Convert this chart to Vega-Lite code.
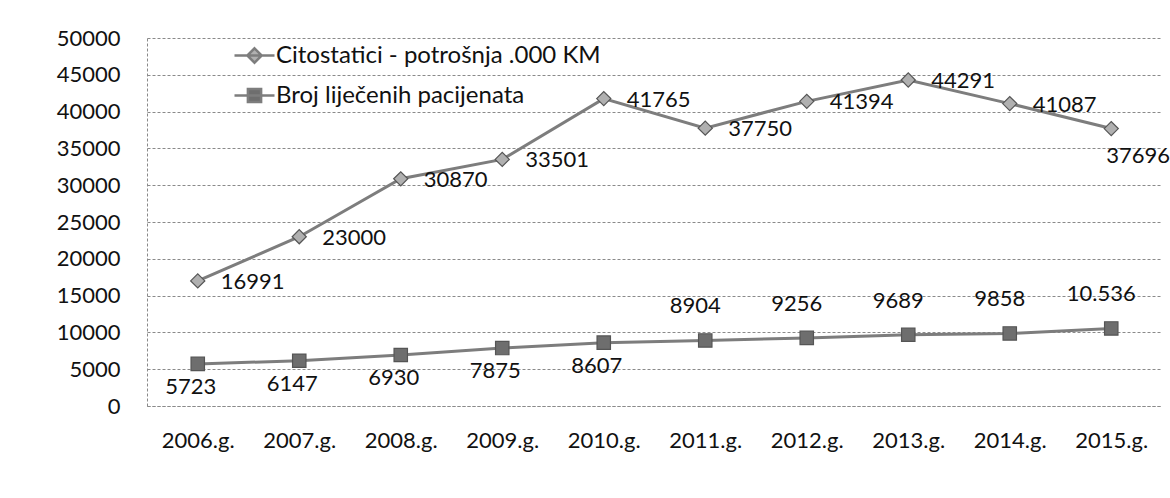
{
  "$schema": "https://vega.github.io/schema/vega-lite/v6.json",
  "autosize": {"type": "none"},
  "width": 1015,
  "height": 368,
  "padding": {"left": 147, "top": 38, "right": 8, "bottom": 92},
  "background": "white",
  "config": {
    "font": "Lato",
    "view": {"stroke": null},
    "axis": {"labelFont": "Lato", "labelFontSize": 22, "labelColor": "#111", "ticks": false, "title": null}
  },
  "data": {
    "values": [
      {"year": "2006.g.", "series": "Citostatici - potrošnja .000 KM", "value": 16991, "label": "16991"},
      {"year": "2007.g.", "series": "Citostatici - potrošnja .000 KM", "value": 23000, "label": "23000"},
      {"year": "2008.g.", "series": "Citostatici - potrošnja .000 KM", "value": 30870, "label": "30870"},
      {"year": "2009.g.", "series": "Citostatici - potrošnja .000 KM", "value": 33501, "label": "33501"},
      {"year": "2010.g.", "series": "Citostatici - potrošnja .000 KM", "value": 41765, "label": "41765"},
      {"year": "2011.g.", "series": "Citostatici - potrošnja .000 KM", "value": 37750, "label": "37750"},
      {"year": "2012.g.", "series": "Citostatici - potrošnja .000 KM", "value": 41394, "label": "41394"},
      {"year": "2013.g.", "series": "Citostatici - potrošnja .000 KM", "value": 44291, "label": "44291"},
      {"year": "2014.g.", "series": "Citostatici - potrošnja .000 KM", "value": 41087, "label": "41087"},
      {"year": "2015.g.", "series": "Citostatici - potrošnja .000 KM", "value": 37696, "label": "37696"},
      {"year": "2006.g.", "series": "Broj liječenih pacijenata", "value": 5723, "label": "5723"},
      {"year": "2007.g.", "series": "Broj liječenih pacijenata", "value": 6147, "label": "6147"},
      {"year": "2008.g.", "series": "Broj liječenih pacijenata", "value": 6930, "label": "6930"},
      {"year": "2009.g.", "series": "Broj liječenih pacijenata", "value": 7875, "label": "7875"},
      {"year": "2010.g.", "series": "Broj liječenih pacijenata", "value": 8607, "label": "8607"},
      {"year": "2011.g.", "series": "Broj liječenih pacijenata", "value": 8904, "label": "8904"},
      {"year": "2012.g.", "series": "Broj liječenih pacijenata", "value": 9256, "label": "9256"},
      {"year": "2013.g.", "series": "Broj liječenih pacijenata", "value": 9689, "label": "9689"},
      {"year": "2014.g.", "series": "Broj liječenih pacijenata", "value": 9858, "label": "9858"},
      {"year": "2015.g.", "series": "Broj liječenih pacijenata", "value": 10536, "label": "10.536"}
    ]
  },
  "encoding": {
    "x": {
      "field": "year", "type": "nominal", "sort": null,
      "scale": {"type": "point", "padding": 0.5},
      "axis": {"labelAngle": 0, "labelPadding": 24, "domain": true, "domainColor": "#8a8a8a", "domainDash": [3, 2], "domainWidth": 1, "grid": false}
    },
    "y": {
      "field": "value", "type": "quantitative",
      "scale": {"domain": [0, 50000], "nice": false},
      "axis": {"values": [0, 5000, 10000, 15000, 20000, 25000, 30000, 35000, 40000, 45000, 50000], "labelPadding": 27, "format": "d", "domain": true, "domainColor": "#8a8a8a", "domainDash": [3, 2], "domainWidth": 1, "grid": true, "gridColor": "#8a8a8a", "gridDash": [3, 2], "gridWidth": 1}
    }
  },
  "layer": [
    {
      "mark": {"type": "line", "strokeWidth": 3},
      "encoding": {
        "color": {
          "field": "series", "type": "nominal",
          "scale": {"domain": ["Citostatici - potrošnja .000 KM", "Broj liječenih pacijenata"], "range": ["#7d7d7d", "#7d7d7d"]},
          "legend": {
            "title": null, "orient": "none", "legendX": 86, "legendY": -4, "padding": 0,
            "symbolSize": 1600, "rowPadding": 6, "labelOffset": 0, "labelLimit": 700,
            "labelFont": "Lato", "labelFontSize": 24, "labelColor": "#111",
            "encode": {
              "symbols": {
                "update": {
                  "shape": {"signal": "datum.value === 'Citostatici - potrošnja .000 KM' ? 'M-1,0L1,0M0,-0.36L0.36,0L0,0.36L-0.36,0Z' : 'M-1,0L1,0M-0.33,-0.33L0.33,-0.33L0.33,0.33L-0.33,0.33Z'"},
                  "fill": {"signal": "datum.value === 'Citostatici - potrošnja .000 KM' ? '#b0b0b0' : '#6e6e6e'"},
                  "stroke": {"value": "#7a7a7a"},
                  "strokeWidth": {"value": 2.5},
                  "opacity": {"value": 1}
                }
              }
            }
          }
        }
      }
    },
    {
      "transform": [{"filter": "datum.series === 'Citostatici - potrošnja .000 KM'"}],
      "mark": {"type": "point", "shape": "diamond", "filled": true, "fill": "#b0b0b0", "stroke": "#555", "strokeWidth": 1.2, "opacity": 1, "size": 200}
    },
    {
      "transform": [{"filter": "datum.series === 'Broj liječenih pacijenata'"}],
      "mark": {"type": "point", "shape": "square", "filled": true, "fill": "#6e6e6e", "stroke": "#555", "strokeWidth": 1.2, "opacity": 1, "size": 180}
    },
    {
      "transform": [{"filter": "datum.series === 'Citostatici - potrošnja .000 KM' && datum.year !== '2015.g.'"}],
      "mark": {"type": "text", "align": "left", "baseline": "middle", "dx": 23, "dy": 1, "fontSize": 22, "font": "Lato", "color": "#111"},
      "encoding": {"text": {"field": "label"}}
    },
    {
      "transform": [{"filter": "datum.series === 'Citostatici - potrošnja .000 KM' && datum.year === '2015.g.'"}],
      "mark": {"type": "text", "align": "left", "baseline": "middle", "dx": -5, "dy": 27, "fontSize": 22, "font": "Lato", "color": "#111"},
      "encoding": {"text": {"field": "label"}}
    },
    {
      "transform": [{"filter": "datum.series === 'Broj liječenih pacijenata' && indexof(['2006.g.','2007.g.','2008.g.','2009.g.','2010.g.'], datum.year) >= 0"}],
      "mark": {"type": "text", "align": "center", "baseline": "middle", "dx": -7, "dy": 23, "fontSize": 22, "font": "Lato", "color": "#111"},
      "encoding": {"text": {"field": "label"}}
    },
    {
      "transform": [{"filter": "datum.series === 'Broj liječenih pacijenata' && indexof(['2006.g.','2007.g.','2008.g.','2009.g.','2010.g.'], datum.year) < 0"}],
      "mark": {"type": "text", "align": "center", "baseline": "middle", "dx": -10, "dy": -34, "fontSize": 22, "font": "Lato", "color": "#111"},
      "encoding": {"text": {"field": "label"}}
    }
  ]
}
